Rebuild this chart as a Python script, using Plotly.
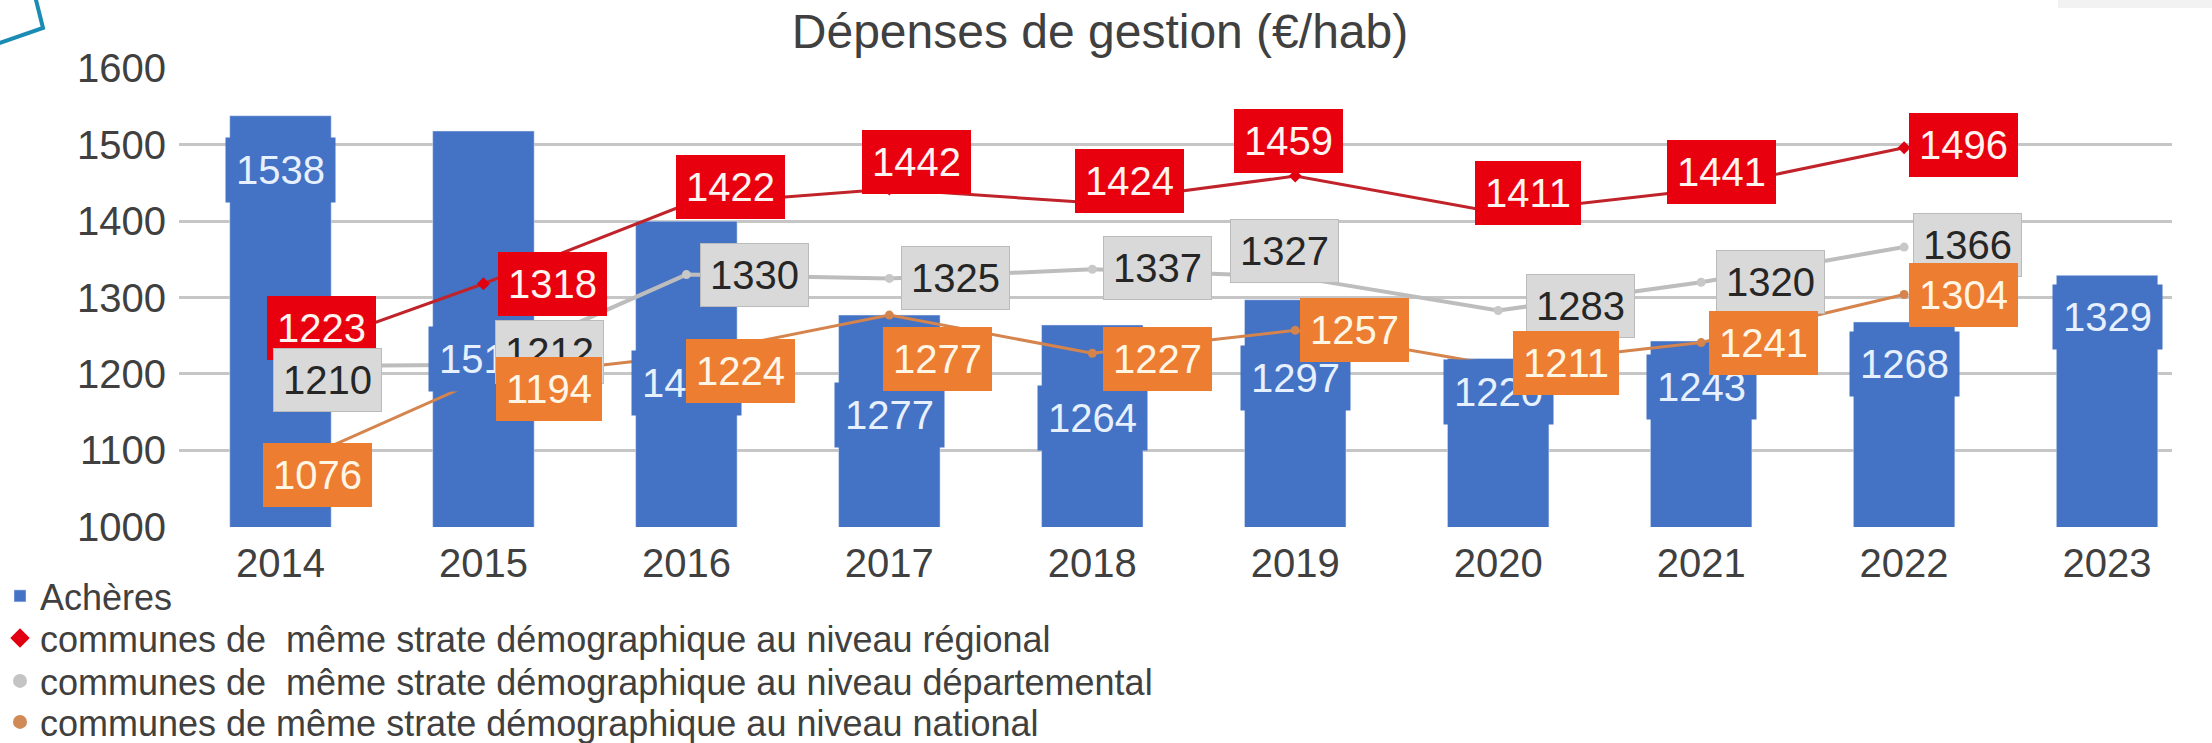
import plotly.graph_objects as go

years = ["2014", "2015", "2016", "2017", "2018", "2019", "2020", "2021", "2022", "2023"]
acheres = [1538, 1518, 1400, 1277, 1264, 1297, 1220, 1243, 1268, 1329]
regional = [1223, 1318, 1422, 1442, 1424, 1459, 1411, 1441, 1496]
departemental = [1210, 1212, 1330, 1325, 1337, 1327, 1283, 1320, 1366]
national = [1076, 1194, 1224, 1277, 1227, 1257, 1211, 1241, 1304]

names = [
    "Achères",
    "communes de  même strate démographique au niveau régional",
    "communes de  même strate démographique au niveau départemental",
    "communes de même strate démographique au niveau national",
]
title = "Dépenses de gestion (€/hab)"

# label placement offsets in pixels (dx, dy; dy positive = downwards)
bar_label_dy = [54, 228, 162, 100, 93, 78, 33, 46, 42, 42]
reg_off = [(41, -28), (69, 0), (44, -17), (27, -27), (37, -22), (-7, -35), (30, -20), (20, -18), (59, -3)]
dep_off = [(47, 14), (66, -13), (68, 0), (66, 0), (65, -1), (-11, -26), (82, -4), (69, 0), (63, -2)]
nat_off = [(37, 6), (66, 11), (54, 15), (48, 44), (65, 6), (59, 0), (68, -2), (62, 0), (59, 1)]
legend_centers = [596, 638, 681, 722]  # pixel rows of the legend entries

BLUE = "#4472C4"
RED_BOX = "#E8000F"
RED_LINE = "#C0232A"
GRAY_BOX = "#D9D9D9"
GRAY_LINE = "#BDBDBD"
ORANGE_BOX = "#ED7D31"
ORANGE_LINE = "#D4844C"
FONT = "Liberation Sans, Arial, sans-serif"
TXT = "#404040"

idx = list(range(len(years)))
legend_ids = ["legend", "legend2", "legend3", "legend4"]

fig = go.Figure()
fig.add_trace(go.Bar(x=idx, y=acheres, marker_color=BLUE, width=0.5, name=names[0],
                     showlegend=True, legend=legend_ids[0]))
fig.add_trace(go.Scatter(x=idx[:len(regional)], y=regional, mode="lines+markers",
                         line=dict(color=RED_LINE, width=3),
                         marker=dict(symbol="diamond", size=10, color="#E00010"),
                         showlegend=False))
fig.add_trace(go.Scatter(x=idx[:len(departemental)], y=departemental, mode="lines+markers",
                         line=dict(color=GRAY_LINE, width=4),
                         marker=dict(symbol="circle", size=9, color="#C8C8C8"),
                         showlegend=False))
fig.add_trace(go.Scatter(x=idx[:len(national)], y=national, mode="lines+markers",
                         line=dict(color=ORANGE_LINE, width=3),
                         marker=dict(symbol="circle", size=9, color=ORANGE_LINE),
                         showlegend=False))
# legend entries (marker only, as in the original)
fig.add_trace(go.Scatter(x=[None], y=[None], mode="markers", name=names[1], legend=legend_ids[1],
                         marker=dict(symbol="diamond", size=15, color="#E00010")))
fig.add_trace(go.Scatter(x=[None], y=[None], mode="markers", name=names[2], legend=legend_ids[2],
                         marker=dict(symbol="circle", size=14, color="#C4C4C4")))
fig.add_trace(go.Scatter(x=[None], y=[None], mode="markers", name=names[3], legend=legend_ids[3],
                         marker=dict(symbol="circle", size=14, color="#D08A55")))

ann = []
LFS = 40
PAD = 10
for i, v in enumerate(acheres):
    ann.append(dict(x=i, y=v, xref="x", yref="y", text=str(v), showarrow=False,
                    yshift=-bar_label_dy[i], bgcolor=BLUE, borderpad=PAD,
                    font=dict(family=FONT, size=LFS, color="#E6F0FF")))


def add_series(vals, offs, bg, fg, border):
    for i, v in enumerate(vals):
        dx, dy = offs[i]
        ann.append(dict(x=i, y=v, xref="x", yref="y", text=str(v), showarrow=False,
                        xshift=dx, yshift=-dy, bgcolor=bg, bordercolor=border, borderwidth=1,
                        borderpad=PAD - 1, font=dict(family=FONT, size=LFS, color=fg)))


add_series(regional, reg_off, RED_BOX, "#FFF4F0", RED_BOX)
add_series(departemental, dep_off, GRAY_BOX, "#262626", "#BBBBBB")
add_series(national, nat_off, ORANGE_BOX, "#FFF6E6", ORANGE_BOX)

L, R, T, B = 179, 2172, 68, 527
PW = R - L
PH = B - T


def px(x):
    return (x - L) / PW


def py(y):
    return (B - y) / PH


shapes = [
    dict(type="path", xref="paper", yref="paper",
         path=f"M {px(-6)} {py(45)} L {px(43)} {py(28)} L {px(35)} {py(-4)}",
         line=dict(color="#1A8CB4", width=4), layer="above"),
    dict(type="rect", xref="paper", yref="paper", x0=px(2058), x1=px(2215), y0=py(8), y1=py(-2),
         fillcolor="#F2F2F2", line=dict(width=0)),
]

legends = {}
for k, lid in enumerate(legend_ids):
    legends[lid] = dict(x=px(0), xanchor="left", y=py(legend_centers[k]), yanchor="middle",
                        orientation="v", font=dict(size=36, color=TXT, family=FONT),
                        bgcolor="rgba(0,0,0,0)", itemwidth=30, tracegroupgap=0)

fig.update_layout(
    width=2212, height=743,
    margin=dict(l=L, r=2212 - R, t=T, b=743 - B, autoexpand=False),
    paper_bgcolor="white", plot_bgcolor="white",
    font=dict(family=FONT, color=TXT),
    title=dict(text=title, x=1100 / 2212, xref="container", xanchor="center",
               y=1 - 31 / 743, yref="container", yanchor="middle",
               font=dict(size=48, color=TXT, family=FONT)),
    xaxis=dict(range=[-0.5, 9.32], tickvals=idx, ticktext=years, showgrid=False,
               zeroline=False, showline=False, tickfont=dict(size=40, color=TXT),
               ticklabelstandoff=9),
    yaxis=dict(range=[999.5, 1600.5], dtick=100, tick0=1000, showgrid=True, gridcolor="#C6C6C6",
               gridwidth=3, zeroline=False, showline=False, tickfont=dict(size=40, color=TXT),
               ticklabelstandoff=12),
    annotations=ann,
    shapes=shapes,
    **legends,
)

fig.write_html("out.html", config={"displayModeBar": False},
               post_script="document.body.style.margin='0';document.body.style.overflow='hidden';")
